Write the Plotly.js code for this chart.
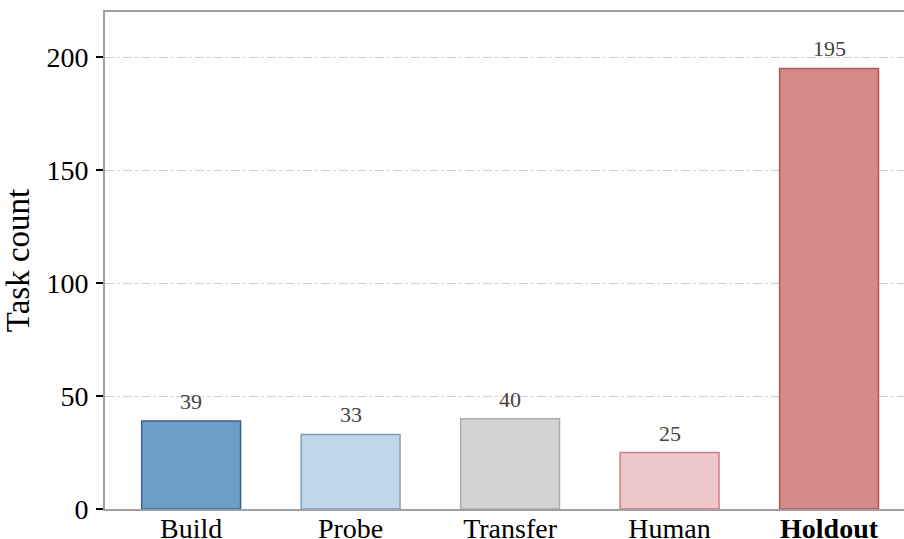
<!DOCTYPE html>
<html>
<head>
<meta charset="utf-8">
<script src="https://cdn.plot.ly/plotly-3.0.1.min.js"></script>
<style>html,body{margin:0;padding:0;background:#fff;}</style>
</head>
<body>
<div id="chart" style="width:904px;height:539px;"></div>
<script>
const categories = ["Build", "Probe", "Transfer", "Human", "Holdout"];
const tickLabels = ["Build", "Probe", "Transfer", "Human", "<b>Holdout</b>"];
const taskCounts = [39, 33, 40, 25, 195];
const fillColors = ["#6a9fc9", "#c0d6ea", "#d3d3d3", "#ecc6c8", "#d68a8a"];
const lineColors = ["#37638d", "#7f9fba", "#ababab", "#cc7f84", "#b45457"];
const yTicks = [0, 50, 100, 150, 200];

const font = "'Liberation Serif', 'Times New Roman', serif";

const trace = {
  type: "bar",
  x: categories,
  y: taskCounts,
  width: 0.62,
  marker: {color: fillColors, line: {color: lineColors, width: 1.5}},
  hoverinfo: "skip"
};

const annotations = categories.map((c, i) => ({
  x: c, y: taskCounts[i], xref: "x", yref: "y",
  text: String(taskCounts[i]), showarrow: false,
  yanchor: "bottom", yshift: 5,
  font: {family: font, size: 22, color: "#444444"}
}));

const layout = {
  width: 904, height: 539,
  margin: {l: 105, r: 0, t: 12, b: 30, pad: 0},
  paper_bgcolor: "#ffffff", plot_bgcolor: "#ffffff",
  showlegend: false,
  font: {family: font, color: "#000000"},
  xaxis: {
    type: "category",
    tickvals: categories, ticktext: tickLabels,
    range: [-0.54, 4.47],
    showgrid: false, zeroline: false,
    showline: true, linecolor: "#a0a0a0", linewidth: 2, mirror: true,
    ticks: "", ticklabelstandoff: -7,
    tickfont: {family: font, size: 28, color: "#000"},
    fixedrange: true
  },
  yaxis: {
    range: [0, 220],
    tickvals: yTicks,
    showgrid: true, gridcolor: "#d0d0d0", griddash: "dashdot", gridwidth: 1,
    zeroline: false,
    showline: true, linecolor: "#a0a0a0", linewidth: 2,
    ticks: "outside", ticklen: 7, tickwidth: 2, tickcolor: "#000",
    ticklabelstandoff: 2,
    tickfont: {family: font, size: 28, color: "#000"},
    title: {text: "Task count", font: {family: font, size: 33, color: "#000"}, standoff: 8},
    fixedrange: true
  },
  annotations: annotations
};

Plotly.newPlot("chart", [trace], layout, {displayModeBar: false, staticPlot: true});
</script>
</body>
</html>
